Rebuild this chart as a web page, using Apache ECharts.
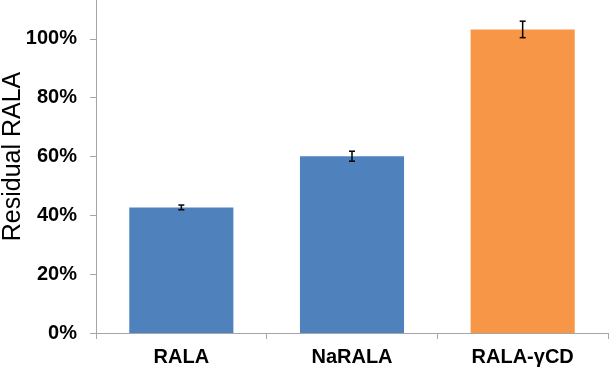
<!DOCTYPE html>
<html>
<head>
<meta charset="utf-8">
<script src="https://cdn.jsdelivr.net/npm/echarts@6/dist/echarts.min.js"></script>
<style>html,body{margin:0;padding:0;background:#fff}#c{width:609px;height:369px}</style>
</head>
<body>
<div id="c"></div>
<script>
const categories = ['RALA', 'NaRALA', 'RALA-γCD'];
const values = [42.7, 60.1, 103.2];
const errors = [0.8, 1.7, 2.8];
const colors = ['#4f81bd', '#4f81bd', '#f79646'];
const yTicks = [0, 20, 40, 60, 80, 100, 120];

const chart = echarts.init(document.getElementById('c'));
const font = '"Liberation Sans", Arial, sans-serif';
chart.setOption({
  animation: false,
  grid: { left: 96, right: 1, top: -20, bottom: 36, containLabel: false, outerBoundsMode: 'none' },
  xAxis: {
    type: 'category',
    data: categories,
    axisLine: { lineStyle: { color: '#a6a6a6', width: 1 } },
    axisTick: { show: true, alignWithLabel: false, length: 6, lineStyle: { color: '#a6a6a6' } },
    axisLabel: { color: '#000', fontFamily: font, fontWeight: 'bold', fontSize: 20, margin: 14 }
  },
  yAxis: {
    type: 'value',
    min: yTicks[0], max: yTicks[yTicks.length - 1], interval: 20,
    name: 'Residual RALA',
    nameLocation: 'middle',
    nameGap: 70,
    nameMoveOverlap: false,
    nameTextStyle: { color: '#000', fontFamily: font, fontSize: 25 },
    axisLine: { show: true, lineStyle: { color: '#a6a6a6', width: 1 } },
    axisTick: { show: true, length: 6, lineStyle: { color: '#a6a6a6' } },
    splitLine: { show: false },
    axisLabel: { color: '#000', fontFamily: font, fontWeight: 'bold', fontSize: 20, margin: 19,
      formatter: v => v + '%' }
  },
  series: [
    {
      type: 'bar',
      barWidth: '61%',
      data: values.map((v, i) => ({ value: v, itemStyle: { color: colors[i] } }))
    },
    {
      type: 'custom',
      data: values.map((v, i) => [i, v - errors[i], v + errors[i]]),
      renderItem: function (params, api) {
        const lo = api.coord([api.value(0), api.value(1)]);
        const hi = api.coord([api.value(0), api.value(2)]);
        const x = lo[0], w = 3;
        const style = { stroke: '#000', lineWidth: 1.5 };
        return { type: 'group', children: [
          { type: 'line', shape: { x1: x, y1: lo[1], x2: x, y2: hi[1] }, style },
          { type: 'line', shape: { x1: x - w, y1: lo[1], x2: x + w, y2: lo[1] }, style },
          { type: 'line', shape: { x1: x - w, y1: hi[1], x2: x + w, y2: hi[1] }, style }
        ]};
      },
      z: 10
    }
  ]
});
</script>
</body>
</html>
